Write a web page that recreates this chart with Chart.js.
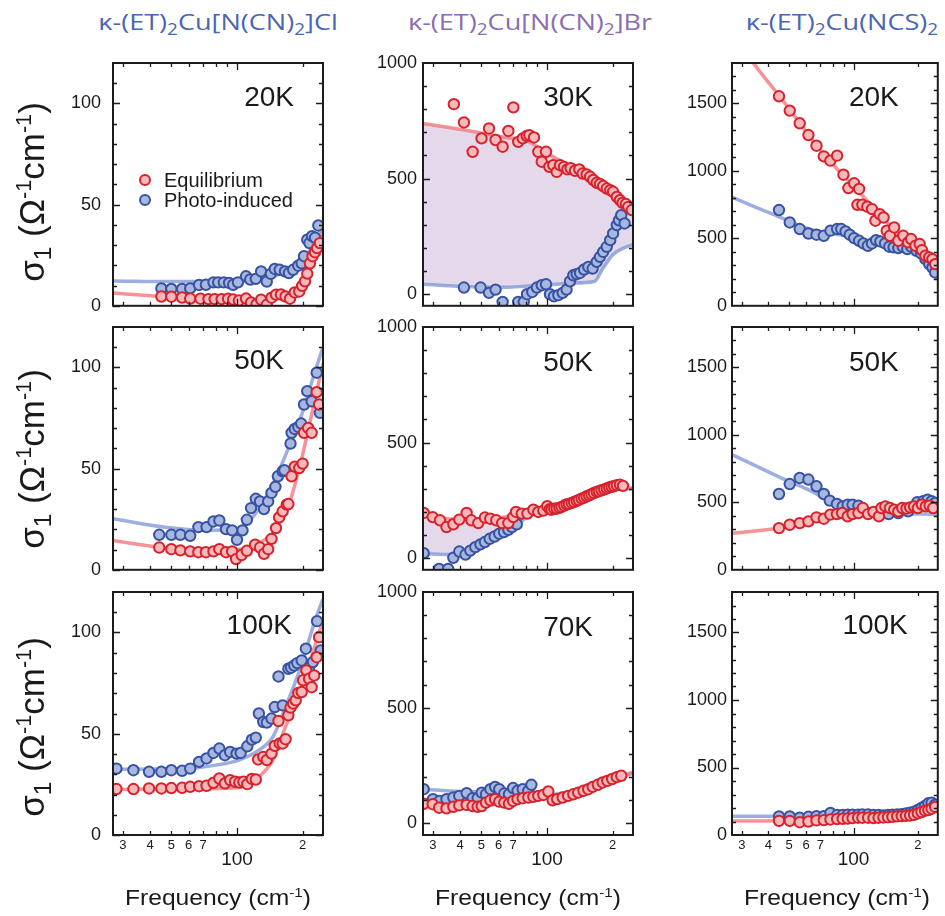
<!DOCTYPE html>
<html>
<head>
<meta charset="utf-8">
<script src="https://cdn.jsdelivr.net/npm/chart.js@4.4.1/dist/chart.umd.min.js"></script>
<style>
body { margin: 0; background: #fff; overflow: hidden; }
#fig { position: relative; width: 945px; height: 916px; }
canvas { position: absolute; }
.ttl { position: absolute; top: 6px; font-family: "Open Sans", sans-serif; font-size: 22px; white-space: nowrap; transform: translateX(-50%) scaleX(1.23); }
.ylab, .xlab { position: absolute; font-family: "Liberation Sans", Arial, sans-serif; color: #1a1a1a; white-space: nowrap; }
.ylab { font-size: 35px; transform: translate(-50%, -50%) rotate(-90deg); }
.xlab { font-size: 22px; transform: translate(-50%, -50%) scaleX(1.12); }
sub { font-size: 70%; vertical-align: -0.3em; line-height: 0; }
sup { font-size: 62%; vertical-align: 0.6em; line-height: 0; }
</style>
</head>
<body>
<div id="fig"></div>
<script>
// x axis ticks (log scale, cm-1)
var xTicks = [30, 40, 50, 60, 70, 80, 90, 100, 200];
var xTickText = { 30: '3', 40: '4', 50: '5', 60: '6', 70: '7', 100: ['', '100'], 200: '2' };

// ---- Cl, 20K ----
var cl20EqFreq = [45, 50, 56, 61, 68, 74, 79, 85, 91, 96, 102, 110, 116, 123, 129, 137, 144, 151, 159, 167, 175, 184, 193, 199, 205, 210, 216, 222, 228, 233, 240];
var cl20EqSig = [4.6, 4.5, 4.1, 3.6, 3.5, 3.3, 3.3, 3.3, 3.5, 3.1, 2.6, 3.6, 1.6, 0.8, 3.0, 0.5, 4.0, 5.5, 5.6, 4.6, 3.5, 6.6, 7.1, 9.9, 12.1, 15.9, 21, 24.5, 26.5, 28.5, 31];
var cl20PiFreq = [45, 50, 56, 61, 67, 72, 78, 82, 87, 92, 96, 101, 110, 115, 122, 129, 137, 143, 149, 157, 166, 173, 181, 191, 198, 203, 210, 215, 221, 228, 236];
var cl20PiSig = [8.6, 8.3, 8.3, 8.6, 10.3, 10.4, 11.6, 11.6, 11.6, 11.3, 10.4, 11.6, 14.6, 13, 13.3, 17, 12, 15.8, 18.2, 17.8, 17, 16.2, 17.8, 19.8, 21, 24.5, 32.7, 31, 34.4, 33.6, 39.7];
var cl20EqFitFreq = [27, 45, 70, 100, 150, 180, 200, 215, 230, 248];
var cl20EqFitSig = [6.3, 4.6, 3.5, 3, 4, 6, 10, 17, 28, 38];
var cl20PiFitFreq = [27, 50, 100, 150, 190, 215, 235, 248];
var cl20PiFitSig = [12.3, 12, 12.3, 15, 20, 27, 35, 40];

// ---- Cl, 50K ----
var cl50EqFreq = [44, 50, 55, 61, 66.5, 72, 78, 83, 89, 95, 99, 105, 111, 121, 127.5, 133, 139, 144, 151, 156, 162, 169, 172, 178, 184, 193, 200, 203, 212, 220, 232, 238];
var cl50EqSig = [11, 10.2, 9.6, 9.1, 8.7, 8.7, 9.1, 10.2, 8.7, 9.1, 5.3, 7.3, 9.4, 12.4, 11, 7.9, 10.2, 15.3, 20.6, 25.9, 28.9, 32.2, 32.5, 46.2, 51, 50.3, 52.5, 67.7, 70.1, 67.7, 87.8, 81.7];
var cl50PiFreq = [44, 50, 55, 61, 66.5, 72.5, 78, 83, 89, 95, 100, 106, 111, 116, 122, 127.5, 133, 139, 144, 150, 154, 162, 165, 176, 178, 184, 191, 197, 203, 210, 220, 232, 240];
var cl50PiSig = [17.3, 17.3, 17.3, 16.8, 21.1, 21.1, 23.9, 24.4, 20.1, 19.5, 14.8, 19.5, 24.7, 30.5, 35.1, 33.8, 30, 33.8, 38, 41, 46.2, 48.7, 49.2, 62.4, 67.7, 69.6, 70.6, 72.3, 81.7, 88.3, 83.3, 97.4, 77.6];
var cl50EqFitFreq = [27, 45, 70, 100, 125, 145, 170, 195, 215, 248];
var cl50EqFitSig = [14.5, 11, 9.5, 10, 13, 18, 30, 52, 72, 102];
var cl50PiFitFreq = [27, 47, 70, 100, 120, 150, 175, 200, 225, 248];
var cl50PiFitSig = [25.2, 21, 19.5, 20, 27, 45, 62, 78, 96, 110];

// ---- Cl, 100K ----
var cl100EqFreq = [28, 33.5, 39.5, 45, 50, 56, 61, 67, 72.5, 78, 83, 88, 93, 98, 102.5, 107, 111.5, 117, 122, 125, 132, 137, 144, 149, 155, 157, 162, 167, 172, 176, 181, 186, 191, 198, 201, 208, 214, 220, 226, 232, 238];
var cl100EqSig = [22.7, 22.7, 23, 23, 23.2, 23.3, 23.8, 24.1, 24.3, 25.8, 27.9, 25.5, 27.1, 26.3, 25.9, 26.3, 25.1, 27.7, 27.4, 37.3, 38.6, 37, 40.2, 44, 56.3, 45.2, 45.2, 47.3, 59.1, 62.9, 64.9, 66.5, 70.1, 70.6, 76.4, 81.3, 77.2, 73, 78.8, 87.8, 97.7];
var cl100PiFreq = [28, 33.5, 39.5, 45, 50, 56, 61, 67, 72.5, 78, 83, 88, 93, 99.5, 104, 111.5, 117, 122, 126, 132, 137, 144, 149, 155, 162, 172, 177, 183, 189, 198, 207, 214, 223, 233, 242];
var cl100PiSig = [32.8, 32, 31.2, 31.2, 32, 31.7, 32.8, 36.1, 37.8, 40.5, 42.7, 39.4, 41, 40.2, 40.5, 43.8, 47.1, 48.1, 60, 55.8, 55.5, 57.5, 63.2, 78.3, 64, 82.1, 82.6, 83.7, 84.9, 86.2, 92, 82.6, 85.4, 105.6, 91.1];
var cl100EqFitFreq = [27, 60, 100, 122, 146, 167, 196, 223, 248];
var cl100EqFitSig = [22.5, 22.8, 23.3, 27.6, 37, 53.5, 71.6, 90.5, 106];
var cl100PiFitFreq = [27, 60, 80, 102, 126, 146, 167, 196, 228, 248];
var cl100PiFitSig = [32.5, 32.8, 34.5, 37, 41.9, 48.4, 63.2, 82.9, 105.9, 116.6];

// ---- Br, 30K ----
var br30EqFreq = [37.4, 41.6, 45.6, 50.1, 54.2, 58.1, 62.6, 66.5, 70.1, 73.8, 77.4, 80.7, 83, 87.2, 91.2, 94.6, 99, 102.5, 106.9, 110.8, 114.7, 119.7, 124, 128.4, 134.4, 140.6, 145.8, 152.1, 157.6, 163, 169, 175, 181, 188, 195, 201, 209, 216, 222, 230, 236, 245];
var br30EqSig = [822, 743, 616, 674, 717, 667, 638, 706, 808, 659, 674, 684, 688, 678, 616, 573, 616, 551, 558, 529, 558, 551, 540, 545, 534, 540, 522, 518, 508, 494, 482, 477, 468, 457, 450, 443, 421, 407, 395, 390, 378, 364];
var br30PiFreq = [41.6, 49.6, 54.2, 58.1, 62.6, 73.8, 78.2, 81, 85.6, 89.9, 94.6, 99, 103.2, 107.7, 112.7, 118, 123, 127.5, 132, 136.8, 141.7, 148, 154.7, 162, 169, 175, 181, 188, 195, 201, 209, 214, 219, 227];
var br30PiSig = [29, 29, 6, 20, -33, -33, -33, 0, 10, 29, 39, 43, 0, -9, -4, 6, 20, 56, 82, 87, 92, 107, 118, 111, 140, 162, 183, 205, 234, 263, 299, 320, 342, 306];
var br30FitFreq = [27, 45, 65, 80, 100, 130, 165, 180, 200, 225, 248];
var br30EqFitSig = [738, 705, 678, 665, 610, 550, 495, 475, 445, 400, 368];
var br30PiFitSig = [43, 32, 30, 35, 40, 48, 55, 110, 170, 200, 215];

// ---- Br, 50K ----
var br50EqFreq = [27.2, 29.9, 32.3, 34.6, 37.2, 39.6, 42.8, 45, 48.4, 51.9, 54.9, 58.5, 62.3, 66.5, 70, 72.1, 76.6, 81.3, 86.6, 91.2, 96.2, 100.3, 103, 105, 108, 110.8, 114, 116.7, 120, 123, 126, 129.8, 133, 136.8, 140, 144, 148, 152, 156, 160, 164, 169, 173, 178, 183, 188, 193, 198, 203, 209, 216, 223];
var br50EqSig = [196, 178, 164, 135, 147, 167, 196, 164, 152, 176, 171, 164, 152, 152, 178, 200, 193, 193, 210, 200, 206, 225, 212, 210, 214, 215, 218, 222, 228, 233, 235, 239, 243, 248, 252, 258, 262, 268, 272, 277, 282, 287, 290, 294, 298, 302, 306, 309, 312, 316, 318, 313];
var br50PiFreq = [27.2, 32, 35.2, 37.2, 39.6, 42.3, 44.5, 46.9, 49.5, 51.9, 54.6, 57.5, 60.4, 63.5, 66.5, 69.1, 72.7];
var br50PiSig = [22, -46, -46, 2, 29, 16, 33, 48, 60, 70, 84, 94, 106, 113, 123, 135, 147];
var br50FitFreq = [27, 36, 45, 55, 65, 73, 90, 100, 130, 170, 210, 248];
var br50EqFitSig = [195, 170, 168, 172, 180, 190, 205, 212, 238, 280, 300, 305];
var br50PiFitSig = [20, 16, 40, 80, 120, 150, 200, 212, 238, 280, 300, 300];

// ---- Br, 70K ----
var br70EqFreq = [27.2, 29.9, 32, 34.6, 37.2, 39.6, 42.8, 45.6, 48.1, 50.2, 52.5, 55, 57.8, 60.4, 63.7, 66.9, 69.9, 73.3, 77.4, 82.1, 86.6, 91.2, 96.2, 101.4, 106.1, 111.4, 118, 125, 132, 139, 147, 154.5, 162, 171, 180, 189, 199, 209, 219];
var br70EqSig = [85, 83, 68, 65, 72, 78, 80, 75, 72, 75, 90, 100, 105, 94, 90, 85, 97, 105, 109, 112, 115, 119, 123, 138, 100, 105, 112, 119, 126, 133, 141, 148, 158, 167, 177, 184, 192, 200, 206];
var br70PiFreq = [27.2, 30, 32.2, 34.6, 37.2, 39.6, 42.8, 45.6, 48.1, 50.2, 52.5, 55, 57.8, 60.4, 63.7, 66.9, 69.9, 73.3, 77.4, 82.1, 84.8];
var br70PiSig = [148, 105, 97, 105, 112, 119, 131, 109, 109, 133, 126, 148, 158, 148, 129, 126, 153, 141, 148, 141, 167];
var br70EqFitFreq = [27, 50, 100, 150, 200, 248];
var br70EqFitSig = [85, 78, 115, 145, 190, 222];
var br70PiFitFreq = [27, 40, 70, 100, 150, 200, 248];
var br70PiFitSig = [148, 138, 135, 125, 150, 190, 216];

// ---- NCS, 20K ----
var ncs20EqFreq = [44.8, 50.3, 56, 61.5, 67.1, 72.6, 77.9, 83.8, 89.7, 94.6, 100.7, 104.3, 106.2, 110, 116, 122, 126.6, 132.6, 138.3, 143, 148, 155, 162, 171, 180, 186, 195, 204, 209, 217, 226, 234, 241];
var ncs20EqSig = [1553, 1447, 1353, 1266, 1187, 1108, 1076, 1113, 972, 873, 908, 749, 866, 749, 735, 717, 631, 680, 655, 557, 519, 581, 482, 519, 470, 495, 445, 458, 413, 371, 359, 346, 309];
var ncs20PiFreq = [44.8, 50.3, 56, 61.5, 67.1, 72.6, 78, 83.8, 87.6, 91.8, 96, 100.7, 106.2, 111.2, 116.7, 122, 127.5, 133.5, 140.5, 147, 154, 162, 170, 178.5, 186, 197, 207, 217, 226, 234, 241];
var ncs20PiSig = [710, 618, 569, 536, 527, 519, 557, 569, 569, 551, 527, 502, 482, 462, 445, 462, 487, 477, 462, 438, 433, 428, 438, 421, 438, 408, 388, 346, 309, 284, 247];
var ncs20EqFitFreq = [30, 34, 45, 56, 67, 78, 90, 100, 120, 143, 170, 200, 230, 248];
var ncs20EqFitSig = [1930, 1800, 1555, 1355, 1190, 1070, 960, 890, 750, 620, 500, 420, 340, 290];
var ncs20PiFitFreq = [27, 35, 45, 55, 65, 80, 100, 130, 170, 210, 248];
var ncs20PiFitSig = [805, 730, 660, 600, 560, 535, 505, 460, 420, 380, 300];

// ---- NCS, 50K ----
var ncs50EqFreq = [44.8, 50.3, 56, 61.5, 67.1, 72.6, 77.9, 83.6, 88.4, 93.9, 99, 105.4, 110.6, 117, 124, 131.5, 135, 141, 148, 155, 162, 169, 177, 184, 192, 200, 209, 218, 227, 236];
var ncs50EqSig = [309, 334, 346, 359, 389, 379, 409, 413, 421, 396, 413, 421, 458, 413, 428, 396, 458, 470, 458, 446, 433, 458, 455, 463, 470, 458, 483, 470, 476, 458];
var ncs50PiFreq = [44.8, 50.3, 56, 61.5, 67.1, 72.6, 77.4, 83.6, 89, 93.9, 99, 105.4, 117, 131.5, 146, 162, 180, 199, 212, 222, 232, 241];
var ncs50PiSig = [562, 636, 681, 669, 619, 562, 513, 488, 470, 483, 483, 476, 421, 409, 413, 421, 433, 502, 508, 520, 508, 496];
var ncs50EqFitFreq = [27, 45, 70, 100, 150, 248];
var ncs50EqFitSig = [270, 310, 380, 420, 445, 460];
var ncs50PiFitFreq = [27, 46, 64, 86, 110, 160, 248];
var ncs50PiFitSig = [855, 680, 580, 470, 435, 420, 410];

// ---- NCS, 100K ----
var ncs100Freq = [44.8, 50.3, 56, 61.5, 67.1, 72.6, 78, 83.8, 89, 94, 99, 105, 110, 117, 124, 131, 138, 145, 152, 160, 168, 176, 184, 192, 200, 208, 216, 224, 232, 241];
var ncs100EqSig = [105, 105, 95, 100, 108, 110, 115, 118, 120, 122, 125, 128, 128, 128, 125, 128, 130, 132, 135, 138, 140, 142, 145, 150, 160, 170, 180, 185, 195, 208];
var ncs100PiSig = [138, 138, 128, 135, 140, 140, 163, 148, 148, 150, 150, 150, 152, 152, 148, 148, 145, 148, 150, 152, 155, 160, 165, 172, 185, 200, 215, 235, 240, 225];
var ncs100FitFreq = [27, 45, 100, 150, 200, 248];
var ncs100EqFitSig = [103, 105, 125, 135, 160, 215];
var ncs100PiFitSig = [138, 138, 150, 150, 185, 240];

// y axes per column: range, labelled ticks, all tick marks
var yMin = [0, -50, 0];
var yMax = [120, 1000, 1800];
var yLabelTicks = [[0, 50, 100], [0, 500, 1000], [0, 500, 1000, 1500]];
var yMarkTicks = [
    [0, 10, 20, 30, 40, 50, 60, 70, 80, 90, 100, 110],
    [0, 100, 200, 300, 400, 500, 600, 700, 800, 900],
    [100, 200, 300, 400, 500, 600, 700, 800, 900, 1000, 1100, 1200, 1300, 1400, 1500, 1600, 1700]
];

var titles = [
    { html: 'κ-(ET)<sub>2</sub>Cu[N(CN)<sub>2</sub>]Cl', x: 218, color: '#4c66b2' },
    { html: 'κ-(ET)<sub>2</sub>Cu[N(CN)<sub>2</sub>]Br', x: 530, color: '#8b6db3' },
    { html: 'κ-(ET)<sub>2</sub>Cu(NCS)<sub>2</sub>', x: 842, color: '#4c66b2' }
];

var panels = [
    { col: 0, row: 0, temp: '20K', tpos: [29, 35], legend: true, eq: [cl20EqFreq, cl20EqSig], pi: [cl20PiFreq, cl20PiSig], eqFit: [cl20EqFitFreq, cl20EqFitSig], piFit: [cl20PiFitFreq, cl20PiFitSig] },
    { col: 0, row: 1, temp: '50K', tpos: [39, 34], eq: [cl50EqFreq, cl50EqSig], pi: [cl50PiFreq, cl50PiSig], eqFit: [cl50EqFitFreq, cl50EqFitSig], piFit: [cl50PiFitFreq, cl50PiFitSig] },
    { col: 0, row: 2, temp: '100K', tpos: [31, 34], eq: [cl100EqFreq, cl100EqSig], pi: [cl100PiFreq, cl100PiSig], eqFit: [cl100EqFitFreq, cl100EqFitSig], piFit: [cl100PiFitFreq, cl100PiFitSig] },
    { col: 1, row: 0, temp: '30K', tpos: [40, 35], fill: true, eq: [br30EqFreq, br30EqSig], pi: [br30PiFreq, br30PiSig], eqFit: [br30FitFreq, br30EqFitSig], piFit: [br30FitFreq, br30PiFitSig] },
    { col: 1, row: 1, temp: '50K', tpos: [40, 36], fill: true, eq: [br50EqFreq, br50EqSig], pi: [br50PiFreq, br50PiSig], eqFit: [br50FitFreq, br50EqFitSig], piFit: [br50FitFreq, br50PiFitSig] },
    { col: 1, row: 2, temp: '70K', tpos: [40, 36], eq: [br70EqFreq, br70EqSig], pi: [br70PiFreq, br70PiSig], eqFit: [br70EqFitFreq, br70EqFitSig], piFit: [br70PiFitFreq, br70PiFitSig] },
    { col: 2, row: 0, temp: '20K', tpos: [39, 35], eq: [ncs20EqFreq, ncs20EqSig], pi: [ncs20PiFreq, ncs20PiSig], eqFit: [ncs20EqFitFreq, ncs20EqFitSig], piFit: [ncs20PiFitFreq, ncs20PiFitSig] },
    { col: 2, row: 1, temp: '50K', tpos: [39, 36], eq: [ncs50EqFreq, ncs50EqSig], pi: [ncs50PiFreq, ncs50PiSig], eqFit: [ncs50EqFitFreq, ncs50EqFitSig], piFit: [ncs50PiFitFreq, ncs50PiFitSig] },
    { col: 2, row: 2, temp: '100K', tpos: [30, 34], eq: [ncs100Freq, ncs100EqSig], pi: [ncs100Freq, ncs100PiSig], eqFit: [ncs100FitFreq, ncs100EqFitSig], piFit: [ncs100FitFreq, ncs100PiFitSig] }
];

// geometry of the grid
var colLeft = [113, 423, 732];
var rowTop = [63, 327, 592];
var yLabShift = [7, 10, 13];
var PW = 210, PH = 243, YW = 62, PADT = 12;
var yPad = [12, 6, 5];

var RED = '#d7222b', RED_FILL = '#f7b9bc', RED_LINE = 'rgba(242,120,126,0.8)';
var BLUE = '#3852a3', BLUE_FILL = '#a8b7de', BLUE_LINE = 'rgba(120,144,210,0.72)';
var LAVENDER = '#e4d9eb';
var FONT = '"Liberation Sans", Arial, sans-serif';

Chart.defaults.font.family = FONT;
Chart.defaults.color = '#1a1a1a';

function toXY(pair) {
    return pair[0].map(function (f, i) { return { x: f, y: pair[1][i] }; });
}

// box, inward ticks on all sides, temperature and legend
function framePlugin(p) {
    return {
        id: 'frame',
        afterDatasetsDraw: function (chart) {
            var ctx = chart.ctx, a = chart.chartArea, x = chart.scales.x, y = chart.scales.y;
            ctx.save();
            ctx.strokeStyle = '#1c1c1c';
            ctx.lineWidth = 1.3;
            ctx.beginPath();
            xTicks.forEach(function (v) {
                var px = Math.round(x.getPixelForValue(v)) + 0.5;
                var l = v === 100 ? 7 : 4;
                ctx.moveTo(px, a.bottom); ctx.lineTo(px, a.bottom - l);
                ctx.moveTo(px, a.top); ctx.lineTo(px, a.top + l);
            });
            yMarkTicks[p.col].forEach(function (v) {
                var py = Math.round(y.getPixelForValue(v)) + 0.5;
                var l = yLabelTicks[p.col].indexOf(v) >= 0 ? 7 : 4;
                ctx.moveTo(a.left, py); ctx.lineTo(a.left + l, py);
                ctx.moveTo(a.right, py); ctx.lineTo(a.right - l, py);
            });
            ctx.stroke();
            ctx.lineWidth = 2;
            ctx.strokeRect(a.left, a.top, a.right - a.left, a.bottom - a.top);

            ctx.fillStyle = '#1a1a1a';
            ctx.font = '28px ' + FONT;
            ctx.textAlign = 'right';
            ctx.textBaseline = 'middle';
            ctx.fillText(p.temp, a.right - p.tpos[0], a.top + p.tpos[1]);

            if (p.legend) {
                var items = [['Equilibrium', RED, RED_FILL], ['Photo-induced', BLUE, BLUE_FILL]];
                ctx.font = '20px ' + FONT;
                ctx.textAlign = 'left';
                items.forEach(function (it, i) {
                    var cy = a.top + 117 + i * 20;
                    ctx.beginPath();
                    ctx.arc(a.left + 32, cy, 5, 0, Math.PI * 2);
                    ctx.fillStyle = it[2]; ctx.fill();
                    ctx.lineWidth = 2; ctx.strokeStyle = it[1]; ctx.stroke();
                    ctx.fillStyle = '#1a1a1a';
                    ctx.fillText(it[0], a.left + 51, cy + 1);
                });
            }
            ctx.restore();
        }
    };
}

var fig = document.getElementById('fig');

panels.forEach(function (p) {
    var bottomRow = p.row === 2;
    var xH = bottomRow ? 50 : 6;
    var padR = p.col === 2 ? 3 : 8;
    var cv = document.createElement('canvas');
    cv.width = YW + PW + padR;
    cv.height = PADT + PH + xH;
    cv.style.left = (colLeft[p.col] - YW) + 'px';
    cv.style.top = (rowTop[p.row] - PADT) + 'px';
    fig.appendChild(cv);

    var datasets = [
        { type: 'scatter', data: toXY(p.eq), pointRadius: 5.2, pointBorderWidth: 2, backgroundColor: RED_FILL, borderColor: RED, order: 0, clip: 0 },
        { type: 'scatter', data: toXY(p.pi), pointRadius: 5.2, pointBorderWidth: 2, backgroundColor: BLUE_FILL, borderColor: BLUE, order: 1, clip: 0 },
        { type: 'line', data: toXY(p.eqFit), showLine: true, borderColor: RED_LINE, borderWidth: 3.5, pointRadius: 0, cubicInterpolationMode: 'monotone', fill: p.fill ? '+1' : false, backgroundColor: LAVENDER, order: 2, clip: 0 },
        { type: 'line', data: toXY(p.piFit), showLine: true, borderColor: BLUE_LINE, borderWidth: 3.5, pointRadius: 0, cubicInterpolationMode: 'monotone', fill: false, order: 3, clip: 0 }
    ];

    var chart = new Chart(cv, {
        type: 'scatter',
        data: { datasets: datasets },
        options: {
            responsive: false,
            maintainAspectRatio: false,
            animation: false,
            devicePixelRatio: 1,
            layout: { padding: { top: PADT, right: padR, left: 0, bottom: 0 } },
            plugins: { legend: { display: false }, tooltip: { enabled: false }, filler: { drawTime: 'beforeDatasetsDraw' } },
            scales: {
                x: {
                    type: 'logarithmic', min: 27, max: 248,
                    grid: { display: false, drawTicks: false }, border: { display: false },
                    afterBuildTicks: function (s) { s.ticks = xTicks.map(function (v) { return { value: v }; }); },
                    afterFit: function (s) { s.height = xH; s.paddingLeft = 0; s.paddingRight = 0; },
                    ticks: {
                        display: bottomRow, autoSkip: false, maxRotation: 0, padding: 3,
                        font: function (c) { return c.tick && c.tick.value === 100 ? { size: 19, lineHeight: 0.75 } : { size: 13 }; },
                        callback: function (v) { return xTickText[v] !== undefined ? xTickText[v] : ''; }
                    }
                },
                y: {
                    min: yMin[p.col], max: yMax[p.col],
                    grid: { display: false, drawTicks: false }, border: { display: false },
                    afterBuildTicks: function (s) { s.ticks = yLabelTicks[p.col].map(function (v) { return { value: v }; }); },
                    afterFit: function (s) { s.width = YW; s.paddingTop = 0; s.paddingBottom = 0; },
                    ticks: { font: { size: 18 }, padding: yPad[p.col], callback: function (v) { return String(v); } }
                }
            }
        },
        plugins: [framePlugin(p)]
    });

    // pin the plot box to its place on the page
    var a = chart.chartArea;
    var dh = PH - (a.bottom - a.top);
    if (Math.abs(dh) > 0.5) {
        chart.resize(cv.width, cv.height + Math.round(dh));
        a = chart.chartArea;
    }
    cv.style.left = (colLeft[p.col] - a.left) + 'px';
    cv.style.top = (rowTop[p.row] - a.top) + 'px';
});

// column titles
titles.forEach(function (t) {
    var d = document.createElement('div');
    d.className = 'ttl';
    d.style.left = t.x + 'px';
    d.style.color = t.color;
    d.innerHTML = t.html;
    fig.appendChild(d);
});

// axis titles
rowTop.forEach(function (top, i) {
    var d = document.createElement('div');
    d.className = 'ylab';
    d.style.left = '32px';
    d.style.top = (top + PH / 2 + yLabShift[i]) + 'px';
    d.innerHTML = 'σ<sub>1</sub> (Ω<sup>-1</sup>cm<sup>-1</sup>)';
    fig.appendChild(d);
});
colLeft.forEach(function (left) {
    var d = document.createElement('div');
    d.className = 'xlab';
    d.style.left = (left + PW / 2) + 'px';
    d.style.top = '898px';
    d.innerHTML = 'Frequency (cm<sup>-1</sup>)';
    fig.appendChild(d);
});
</script>
</body>
</html>
